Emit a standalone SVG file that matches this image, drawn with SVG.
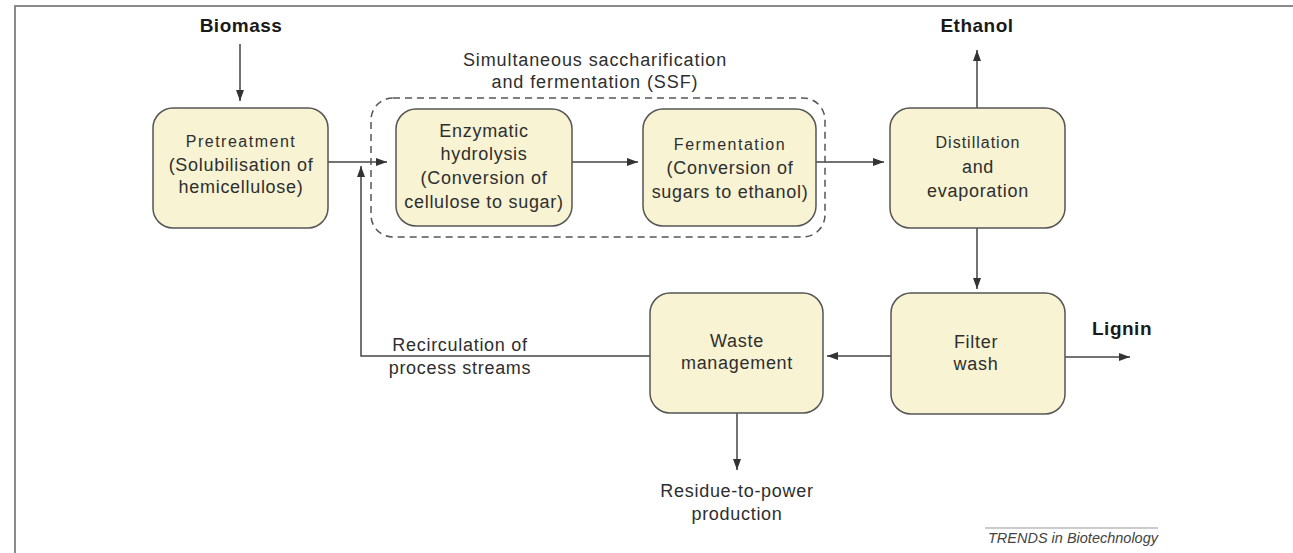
<svg xmlns="http://www.w3.org/2000/svg" width="1293" height="553" viewBox="0 0 1293 553">
<defs>
<style>
.box{fill:#f7f3d3;stroke:#555;stroke-width:1.5}
.t{font-family:"Liberation Sans",Arial,sans-serif;font-size:18px;letter-spacing:0.7px;fill:#2e2e2e;text-anchor:middle}
.s{font-size:16px;letter-spacing:1.5px}
.b{font-family:"Liberation Sans",Arial,sans-serif;font-size:19px;font-weight:bold;letter-spacing:0.5px;fill:#1a1a1a;text-anchor:middle}
.c{fill:none;stroke:#444;stroke-width:1.5}
.frame{fill:none;stroke:#8a8a8a;stroke-width:2}
</style>
<marker id="ah" markerUnits="userSpaceOnUse" markerWidth="11" markerHeight="8" refX="11" refY="4" orient="auto">
<path d="M0,0 L11,4 L0,8 z" fill="#333"/>
</marker>
</defs>
<rect width="1293" height="553" fill="#fff"/>
<path class="frame" d="M15,553 V6 H1293"/>

<g id="connectors">
<line class="c" x1="240" y1="44" x2="240" y2="101" marker-end="url(#ah)"/>
<line class="c" x1="328" y1="162" x2="387" y2="162" marker-end="url(#ah)"/>
<polyline class="c" points="650,356 361,356 361,166" marker-end="url(#ah)"/>
<line class="c" x1="572" y1="162" x2="638" y2="162" marker-end="url(#ah)"/>
<line class="c" x1="816" y1="162" x2="884" y2="162" marker-end="url(#ah)"/>
<line class="c" x1="977" y1="108" x2="977" y2="50" marker-end="url(#ah)"/>
<line class="c" x1="977" y1="228" x2="977" y2="289" marker-end="url(#ah)"/>
<line class="c" x1="891" y1="356" x2="827" y2="356" marker-end="url(#ah)"/>
<line class="c" x1="1065" y1="357" x2="1130" y2="357" marker-end="url(#ah)"/>
<line class="c" x1="737" y1="413" x2="737" y2="470" marker-end="url(#ah)"/>
</g>

<g id="labels">
<text class="b" x="241" y="32">Biomass</text>
<text class="b" x="977" y="32">Ethanol</text>
<text class="b" x="1122" y="335">Lignin</text>
<text class="t" x="460" y="351">Recirculation of</text>
<text class="t" x="460" y="374">process streams</text>
<text class="t" x="737" y="497">Residue-to-power</text>
<text class="t" x="737" y="520">production</text>
</g>

<g id="ssf">
<rect x="371" y="98" width="454" height="139" rx="22" fill="none" stroke="#555" stroke-width="1.5" stroke-dasharray="7 5"/>
<text class="t" x="595" y="66" style="letter-spacing:0.9px">Simultaneous saccharification</text>
<text class="t" x="595" y="88" style="letter-spacing:0.9px">and fermentation (SSF)</text>
</g>

<g id="pretreatment">
<rect class="box" x="153" y="108" width="175" height="120" rx="20"/>
<text class="t s" x="241" y="147">Pretreatment</text>
<text class="t" x="241" y="171">(Solubilisation of</text>
<text class="t" x="241" y="193">hemicellulose)</text>
</g>

<g id="enzymatic">
<rect class="box" x="396" y="109" width="176" height="117" rx="20"/>
<text class="t" x="484" y="137">Enzymatic</text>
<text class="t" x="484" y="160">hydrolysis</text>
<text class="t" x="484" y="184">(Conversion of</text>
<text class="t" x="484" y="208">cellulose to sugar)</text>
</g>

<g id="fermentation">
<rect class="box" x="643" y="109" width="173" height="117" rx="20"/>
<text class="t s" x="730" y="150">Fermentation</text>
<text class="t" x="730" y="174">(Conversion of</text>
<text class="t" x="730" y="198">sugars to ethanol)</text>
</g>

<g id="distillation">
<rect class="box" x="890" y="108" width="175" height="120" rx="20"/>
<text class="t s" x="978" y="148" style="letter-spacing:1px">Distillation</text>
<text class="t" x="978" y="173">and</text>
<text class="t" x="978" y="197">evaporation</text>
</g>

<g id="filter">
<rect class="box" x="891" y="293" width="174" height="121" rx="20"/>
<text class="t" x="976" y="348">Filter</text>
<text class="t" x="976" y="370">wash</text>
</g>

<g id="waste">
<rect class="box" x="650" y="293" width="173" height="120" rx="20"/>
<text class="t" x="737" y="347">Waste</text>
<text class="t" x="737" y="369">management</text>
</g>

<g id="credit">
<line x1="985" y1="528" x2="1158" y2="528" stroke="#999" stroke-width="1"/>
<text x="1158" y="543" font-family="Liberation Sans, Arial, sans-serif" font-size="14.5" font-style="italic" fill="#444" text-anchor="end">TRENDS in Biotechnology</text>
</g>
</svg>
